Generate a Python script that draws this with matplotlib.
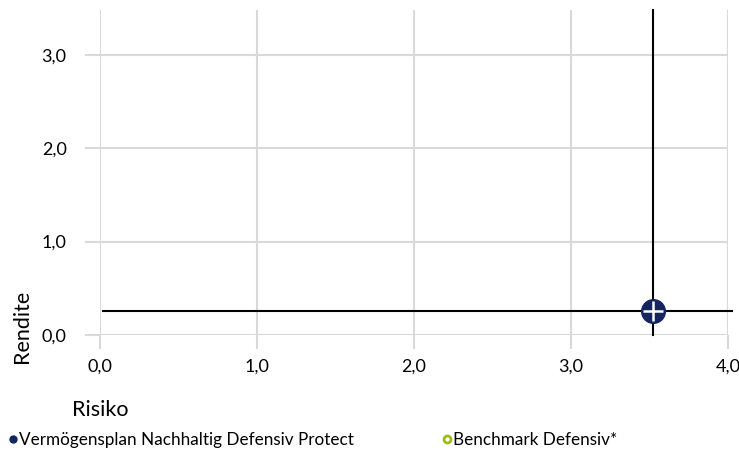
import matplotlib.pyplot as plt
from matplotlib.lines import Line2D

plt.rcParams['font.family'] = ['Lato', 'DejaVu Sans']

# data
fund_name = "Vermögensplan Nachhaltig Defensiv Protect"
bench_name = "Benchmark Defensiv*"
fund_risk = [3.52]
fund_return = [0.26]
x_ticks = [0.0, 1.0, 2.0, 3.0, 4.0]
y_ticks = [0.0, 1.0, 2.0, 3.0]

navy = "#15255e"
green = "#9dbb1c"
grid = "#d9d9d9"

fig = plt.figure(figsize=(7.39, 4.53), dpi=100)
ax = fig.add_axes([100 / 739, 1 - 335 / 453, 628 / 739, 325 / 453])

ax.set_xlim(0, 4.0)
ax.set_ylim(0, 3.48)
ax.set_xticks(x_ticks)
ax.set_yticks(y_ticks)
ax.set_xticklabels([f"{v:.1f}".replace(".", ",") for v in x_ticks])
ax.set_yticklabels([f"{v:.1f}".replace(".", ",") for v in y_ticks])
ax.grid(True, color=grid, lw=1.5)
for s in ax.spines.values():
    s.set_visible(False)
ax.tick_params(axis="x", length=10, width=1.5, color=grid, labelsize=13, pad=7)
ax.tick_params(axis="y", length=11, width=1.5, color=grid, labelsize=13, pad=13)

# crosshair at fund point
ax.axvline(fund_risk[0], color="black", lw=1.5, ymin=0, ymax=1, clip_on=False)
ax.axhline(fund_return[0], color="black", lw=1.5, xmin=0.005, xmax=1.006, clip_on=False)
ax.plot(fund_risk, fund_return, "o", ms=17, color=navy, zorder=5, clip_on=False)
ax.plot(fund_risk, fund_return, "+", ms=14, mew=1.8, color="white", zorder=6, clip_on=False)

fig.text(22 / 739, 1 - 326 / 453, "Rendite", rotation=90, fontsize=15.5,
         ha="center", va="center")
fig.text(72 / 739, 1 - 410 / 453, "Risiko", fontsize=15.5, ha="left", va="center")

handles = [
    Line2D([], [], marker="o", ls="", color=navy, ms=5),
    Line2D([], [], marker="o", ls="", mfc="white", mec=green, mew=2, ms=5),
]
fig.legend(handles, [fund_name, bench_name], loc="center left",
           bbox_to_anchor=(4 / 739, 1 - 440 / 453), ncol=2, frameon=False,
           fontsize=12.3, handletextpad=-0.1, columnspacing=4.9, handlelength=1.0,
           borderaxespad=0, borderpad=0)

fig.savefig("out.png", dpi=100)
